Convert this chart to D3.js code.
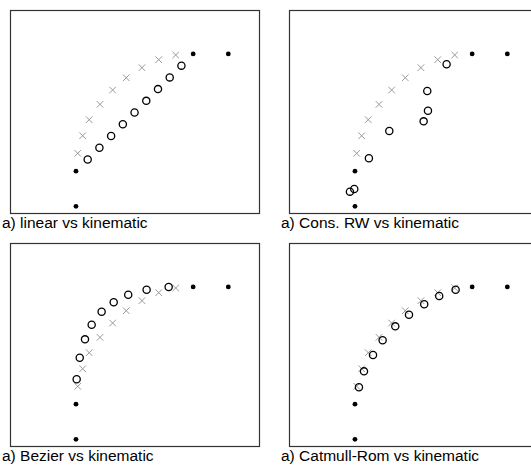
<!DOCTYPE html>
<html>
<head>
<meta charset="utf-8">
<script src="https://cdn.jsdelivr.net/npm/d3@7"></script>
<style>
  html, body { margin: 0; padding: 0; background: #fff; }
  svg { display: block; }
</style>
</head>
<body>
<svg id="chart" width="531" height="466"></svg>
<script>
// Control points shared by every panel
const controlX = [0, 0, 10, 13];
const controlY = [0, 3, 13, 13];

// Reference (kinematic) trajectory, drawn as grey crosses
const kinematicX = [0.15, 0.57, 1.13, 2.05, 3.13, 4.29, 5.63, 7.06, 8.51];
const kinematicY = [4.52, 6.02, 7.39, 8.70, 9.92, 10.97, 11.83, 12.51, 12.91];

// Interpolated points for each method, drawn as open circles
const linearX = [1, 2, 3, 4, 5, 6, 7, 8, 9];
const linearY = [4, 5, 6, 7, 8, 9, 10, 11, 12];

const consRwX = [-0.43, -0.06, 1.19, 2.93, 5.86, 6.23, 6.17, 7.82];
const consRwY = [1.25, 1.48, 4.10, 6.42, 7.25, 8.16, 9.84, 12.12];

const bezierX = [0.06, 0.32, 0.77, 1.34, 2.19, 3.22, 4.46, 6.03, 7.91];
const bezierY = [5.12, 6.96, 8.53, 9.78, 10.89, 11.69, 12.34, 12.76, 13.00];

const catmullX = [0.34, 0.77, 1.54, 2.36, 3.44, 4.61, 5.91, 7.19, 8.59];
const catmullY = [4.44, 5.80, 7.19, 8.45, 9.64, 10.63, 11.52, 12.23, 12.76];

const panelTitles = [
  "a) linear vs kinematic",
  "a) Cons. RW vs kinematic",
  "a) Bezier vs kinematic",
  "a) Catmull-Rom vs kinematic"
];

const methodX = [linearX, consRwX, bezierX, catmullX];
const methodY = [linearY, consRwY, bezierY, catmullY];

const zip = (xs, ys) => xs.map((x, i) => [x, ys[i]]);
const control = zip(controlX, controlY);
const kinematic = zip(kinematicX, kinematicY);

const svg = d3.select("#chart");

const frameW = 249, frameH = 203;
const colStep = 279, rowStep = 233;
const originX = 10, originY = 10;

const x = d3.scaleLinear().domain([-5.63, 15.62]).range([0, frameW]);
const y = d3.scaleLinear().domain([-0.57, 16.75]).range([frameH, 0]);

panelTitles.forEach((title, k) => {
  const col = k % 2, row = Math.floor(k / 2);
  const g = svg.append("g")
    .attr("transform", `translate(${originX + col * colStep},${originY + row * rowStep})`);

  g.append("rect")
    .attr("x", 0.5).attr("y", 0.5)
    .attr("width", frameW).attr("height", frameH)
    .attr("fill", "none")
    .attr("stroke", "#333")
    .attr("stroke-width", 1.2);

  // kinematic crosses
  const cs = 3.3;
  g.append("g").selectAll("path")
    .data(kinematic)
    .join("path")
    .attr("d", d => {
      const px = x(d[0]), py = y(d[1]);
      return `M${px - cs},${py - cs}L${px + cs},${py + cs}M${px - cs},${py + cs}L${px + cs},${py - cs}`;
    })
    .attr("stroke", "#9a9a9a")
    .attr("stroke-width", 1)
    .attr("fill", "none");

  // interpolated points
  g.append("g").selectAll("circle")
    .data(zip(methodX[k], methodY[k]))
    .join("circle")
    .attr("cx", d => x(d[0]))
    .attr("cy", d => y(d[1]))
    .attr("r", 3.6)
    .attr("fill", "none")
    .attr("stroke", "#000")
    .attr("stroke-width", 1.3);

  // control points
  g.append("g").selectAll("circle")
    .data(control)
    .join("circle")
    .attr("cx", d => x(d[0]))
    .attr("cy", d => y(d[1]))
    .attr("r", 2.4)
    .attr("fill", "#000");

  g.append("text")
    .attr("x", -8)
    .attr("y", frameH + 15)
    .attr("font-family", "Liberation Sans, Arial, sans-serif")
    .attr("font-size", 15.5)
    .attr("fill", "#000")
    .text(title);
});
</script>
</body>
</html>
